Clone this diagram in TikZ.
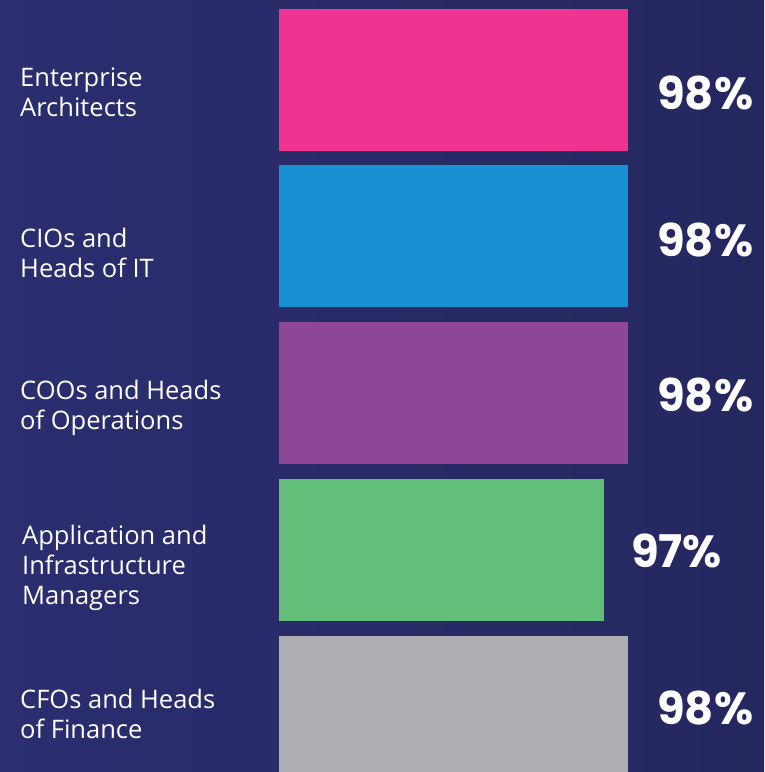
\documentclass[tikz,border=0pt]{standalone}
\usepackage{fontspec}
\usepackage{tikz}
\newfontfamily\labelfont{Open Sans}
\newfontfamily\pctfont{Poppins}
\definecolor{bgleft}{HTML}{2B2E6F}
\definecolor{bgright}{HTML}{25285F}
\definecolor{barpink}{HTML}{EE3390}
\definecolor{barblue}{HTML}{1891D2}
\definecolor{barpurple}{HTML}{8E4798}
\definecolor{bargreen}{HTML}{62BE79}
\definecolor{bargray}{HTML}{ADAEB2}
\tikzset{role/.style = {anchor = base west, inner sep = 0, align = left, text = white,
                        font = {\labelfont\fontsize{25.5}{30}\selectfont}}}
\tikzset{pct/.style = {anchor = base west, inner sep = 0, text = white,
                       font = {\pctfont\bfseries\fontsize{45}{50}\selectfont}}}

\begin{document}
\begin{tikzpicture}[x=1pt, y=-1pt]
      \useasboundingbox (0, 0) rectangle (764, 772);
      \shade [left color = bgleft, right color = bgright] (0, 0) rectangle (764, 772);
      \fill [barpink] (279, 9) rectangle (628, 151);
      \fill [barblue] (279, 165) rectangle (628, 307);
      \fill [barpurple] (279, 322) rectangle (628, 464);
      \fill [bargreen] (279, 479) rectangle (604, 621);
      \fill [bargray] (279, 636) rectangle (628, 772);
      % role labels, placed by the baseline of their last line
      \node [role] (ea) at (20, 116) {Enterprise\\Architects};
      \node [role] (cio) at (20, 277) {CIOs and\\Heads of IT};
      \node [role] (coo) at (20, 429) {COOs and Heads\\of Operations};
      \node [role] (aim) at (22, 604) {Application and\\Infrastructure\\Managers};
      \node [role] (cfo) at (20, 738) {CFOs and Heads\\of Finance};
      \node [pct] (ea-pct) at (657, 109) {98\%};
      \node [pct] (cio-pct) at (657, 256) {98\%};
      \node [pct] (coo-pct) at (657, 411) {98\%};
      \node [pct] (aim-pct) at (631, 567) {97\%};
      \node [pct] (cfo-pct) at (657, 724) {98\%};
    \end{tikzpicture}
\end{document}
